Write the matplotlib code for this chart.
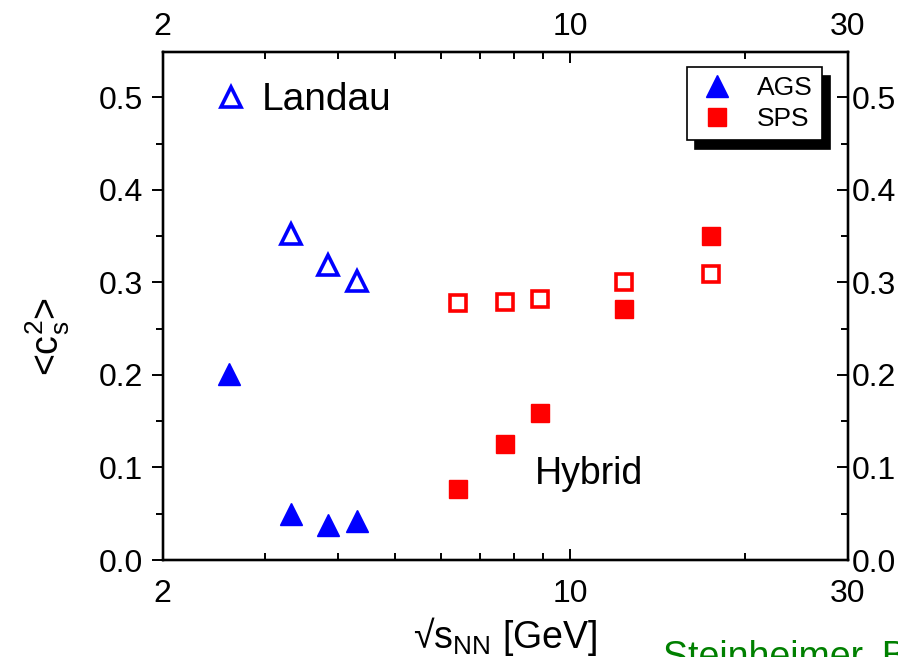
import numpy as np
import matplotlib
matplotlib.use("Agg")
import matplotlib.pyplot as plt
from matplotlib.lines import Line2D
from matplotlib.ticker import FixedLocator, NullFormatter

plt.rcParams['font.family'] = ['Liberation Sans', 'DejaVu Sans']
plt.rcParams['mathtext.fontset'] = 'custom'
plt.rcParams['mathtext.rm'] = 'Liberation Sans'
plt.rcParams['mathtext.it'] = 'Liberation Sans'

# AGS energies (sqrt s_NN in GeV)
ags_x = [3.32, 3.84, 4.31]
ags_landau = [0.352, 0.319, 0.302]
ags_hyb_x = [2.6, 3.32, 3.84, 4.31]
ags_hybrid = [0.201, 0.050, 0.038, 0.042]

# SPS energies
sps_x = [6.42, 7.74, 8.88, 12.38, 17.46]
sps_landau = [0.278, 0.279, 0.282, 0.300, 0.309]
sps_hybrid = [0.077, 0.125, 0.159, 0.271, 0.350]

xticks = [2, 10, 30]
xminor = [3, 4, 5, 6, 7, 8, 9, 20]
yticks = [0.0, 0.1, 0.2, 0.3, 0.4, 0.5]
yminor = [0.05, 0.15, 0.25, 0.35, 0.45]

blue = '#0000ff'
red = '#ff0000'
xfmt = plt.FuncFormatter(lambda v, p: '%d' % v)
yfmt = plt.FuncFormatter(lambda v, p: '%.1f' % v)

fig = plt.figure(figsize=(8.98, 6.57), dpi=100)
ax = fig.add_axes([0.1812, 0.1476, 0.7631, 0.7733])

ax.plot(ags_x, ags_landau, '^', ms=14, mfc='none', mec=blue, mew=2.6, ls='none')
ax.plot(ags_hyb_x, ags_hybrid, '^', ms=16, color=blue, ls='none')
ax.plot(sps_x, sps_landau, 's', ms=12, mfc='none', mec=red, mew=2.6, ls='none')
ax.plot(sps_x, sps_hybrid, 's', ms=13, color=red, ls='none')

ax.set_xscale('log')
ax.set_xlim(2, 30)
ax.set_ylim(0, 0.549)


def setup_x(a):
    a.xaxis.set_major_locator(FixedLocator(xticks))
    a.xaxis.set_minor_locator(FixedLocator(xminor))
    a.xaxis.set_major_formatter(xfmt)
    a.xaxis.set_minor_formatter(NullFormatter())


def setup_y(a):
    a.yaxis.set_major_locator(FixedLocator(yticks))
    a.yaxis.set_minor_locator(FixedLocator(yminor))
    a.yaxis.set_major_formatter(yfmt)


setup_x(ax)
setup_y(ax)

# top axis
axT = ax.twiny()
axT.set_xscale('log')
axT.set_xlim(2, 30)
setup_x(axT)

# right axis
axR = ax.twinx()
axR.set_ylim(0, 0.549)
setup_y(axR)

for a in (ax, axT, axR):
    for s in a.spines.values():
        s.set_linewidth(1.6)

ax.tick_params(axis='x', which='both', direction='in', labelsize=23, width=1.4,
               pad=14, top=False)
ax.tick_params(axis='x', which='major', length=8)
ax.tick_params(axis='x', which='minor', length=5)
ax.tick_params(axis='y', which='both', direction='out', labelsize=23, width=1.4,
               pad=6, right=False)
ax.tick_params(axis='y', which='major', length=8)
ax.tick_params(axis='y', which='minor', length=5)

axT.tick_params(axis='x', which='both', direction='in', labelsize=23, width=1.4,
                pad=7)
axT.tick_params(axis='x', which='major', length=8)
axT.tick_params(axis='x', which='minor', length=5)

axR.tick_params(axis='y', which='both', direction='in', labelsize=23, width=1.4,
                pad=3)
axR.tick_params(axis='y', which='major', length=8)
axR.tick_params(axis='y', which='minor', length=5)

ax.set_xlabel('√s$_{\\mathregular{NN}}$ [GeV]', fontsize=27, labelpad=4)
ax.set_ylabel('<c$_\\mathregular{s}^\\mathregular{2}$>', fontsize=27)
ax.yaxis.set_label_coords(-0.132, 0.44)

handles = [Line2D([], [], marker='^', ms=16, color=blue, ls='none'),
           Line2D([], [], marker='s', ms=13, color=red, ls='none')]
leg = axR.legend(handles, ['AGS', 'SPS'], loc='upper left',
                 bbox_to_anchor=(0.765, 0.970), borderaxespad=0, fontsize=19,
                 fancybox=False, edgecolor='black', framealpha=1,
                 handlelength=1.6, handletextpad=0.7, labelspacing=0.25,
                 borderpad=0.35,
                 shadow={'ox': 6, 'oy': -6, 'color': 'black', 'alpha': 1})
leg.get_frame().set_linewidth(1.2)
axR.add_artist(leg)

landau_h = [Line2D([], [], marker='^', ms=14, mfc='none', mec=blue, mew=2.6, ls='none')]
axR.legend(landau_h, ['Landau'], loc='center left', bbox_to_anchor=(0.048, 0.905),
           borderaxespad=0, fontsize=28, frameon=False, handlelength=1.0,
           handletextpad=0.3)

axR.text(0.543, 0.17, 'Hybrid', transform=ax.transAxes, fontsize=27,
         va='center', ha='left')

fig.text(663 / 898, 0.026, 'Steinheimer, Bleicher', color='#008000',
         fontsize=27, ha='left', va='top')

fig.savefig('out.png', dpi=100)
